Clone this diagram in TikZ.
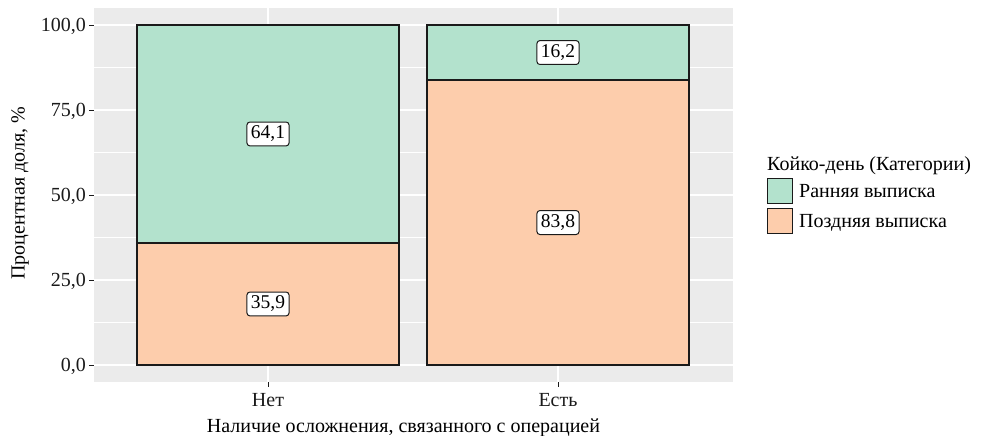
\documentclass[tikz,border=0pt]{standalone}
\usepackage{fontspec}
\setmainfont{Liberation Serif}
\definecolor{panel}{HTML}{EBEBEB}
\definecolor{early}{HTML}{B3E2CD}
\definecolor{late}{HTML}{FDCDAC}
\definecolor{txt}{HTML}{1A1A1A}
\begin{document}
\begin{tikzpicture}[x=1pt,y=1pt,
  bar/.style={draw=txt,line width=1.3pt},
  lab/.style={draw=txt,fill=white,rounded corners=3pt,line width=1pt,inner xsep=4pt,inner ysep=4pt,font=\fontsize{19.5}{19.5}\selectfont,text=black},
  tick/.style={font=\fontsize{20}{20}\selectfont,text=txt},
  major/.style={draw=white,line width=1.3pt},
  minor/.style={draw=white,line width=0.6pt}]
\useasboundingbox (0,0) rectangle (983,-436);
% panel
\fill[panel] (94,-8) rectangle (733,-382);
\foreach \v in {12.5,37.5,62.5,87.5} \draw[minor] (94,{-365+3.4*\v}) -- (733,{-365+3.4*\v});
\foreach \v in {0,25,50,75,100} \draw[major] (94,{-365+3.4*\v}) -- (733,{-365+3.4*\v});
\draw[major] (268,-8) -- (268,-382);
\draw[major] (558,-8) -- (558,-382);
% bars
\draw[bar,fill=late] (137,-365) rectangle (399,{-365+3.4*35.9});
\draw[bar,fill=early] (137,{-365+3.4*35.9}) rectangle (399,{-365+3.4*100});
\draw[bar,fill=late] (427,-365) rectangle (689,{-365+3.4*83.8});
\draw[bar,fill=early] (427,{-365+3.4*83.8}) rectangle (689,{-365+3.4*100});
% labels
\node[lab] (l1) at (268,{-365+3.4*67.95}) {64,1};
\node[lab] (l2) at (268,{-365+3.4*17.95}) {35,9};
\node[lab] (l3) at (558,{-365+3.4*91.9}) {16,2};
\node[lab] (l4) at (558,{-365+3.4*41.9}) {83,8};
% y axis ticks
\foreach \v/\t in {0/{0,0},25/{25,0},50/{50,0},75/{75,0},100/{100,0}} {
  \draw[txt,line width=0.8pt] (89,{-365+3.4*\v}) -- (94,{-365+3.4*\v});
  \node[tick,anchor=base east,inner sep=0pt] (yt\v) at (86,{-365+3.4*\v-6.6}) {\t};
}
% x axis ticks
\draw[txt,line width=0.8pt] (268,-382) -- (268,-387);
\draw[txt,line width=0.8pt] (558,-382) -- (558,-387);
\node[tick,anchor=base,inner sep=0pt] (xt1) at (268,-406.5) {Нет};
\node[tick,anchor=base,inner sep=0pt] (xt2) at (558,-406.5) {Есть};
% axis titles
\node[tick,text=black,anchor=base,inner sep=0pt] (xtitle) at (403.5,-432.5) {Наличие осложнения, связанного с операцией};
\node[tick,text=black,inner sep=0pt,rotate=90] (ytitle) at (20,-193) {Процентная доля, \%};
% legend
\node[tick,text=black,anchor=base west,inner sep=0pt] (lt) at (767,-170) {Койко-день (Категории)};
\draw[bar,line width=1pt,fill=early] (767,-178) rectangle (792,-203);
\draw[bar,line width=1pt,fill=late] (767,-208.5) rectangle (792,-233.5);
\node[tick,text=black,anchor=base west,inner sep=0pt] (le1) at (799,-197.5) {Ранняя выписка};
\node[tick,text=black,anchor=base west,inner sep=0pt] (le2) at (799,-227.5) {Поздняя выписка};
\end{tikzpicture}
\end{document}
